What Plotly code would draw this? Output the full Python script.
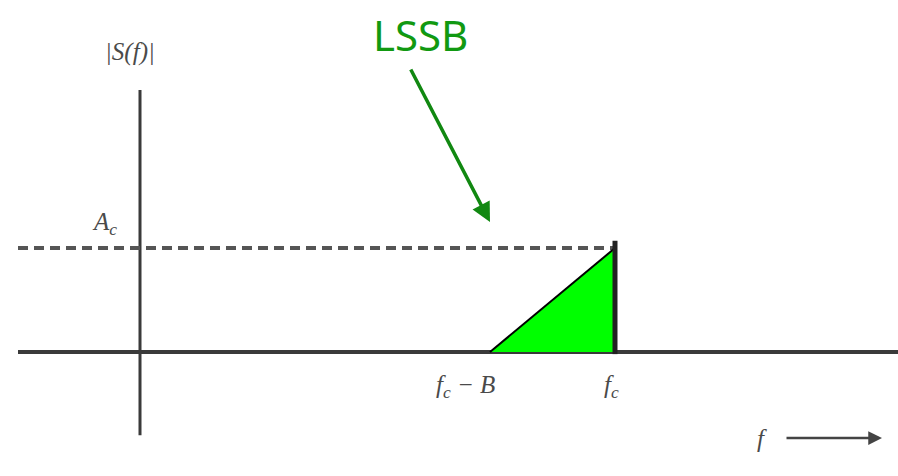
import plotly.graph_objects as go

# Spectrum parameters (arbitrary frequency units)
fc = 4.75          # carrier frequency
B = 1.25           # message bandwidth
Ac = 1.0           # carrier amplitude

# Lower sideband: triangular spectrum from fc-B up to fc
lsb_f = [fc - B, fc, fc, fc - B]
lsb_mag = [0.0, Ac, 0.0, 0.0]

tick_labels = ["f<sub>c</sub> \u2212 B", "f<sub>c</sub>"]
tick_pos = [fc - B, fc]

ink = "#3a3a3a"
fig = go.Figure()

# horizontal frequency axis
fig.add_trace(go.Scatter(x=[-1.22, 7.58], y=[0, 0], mode="lines",
                         line=dict(color=ink, width=4), hoverinfo="skip"))
# vertical magnitude axis
fig.add_trace(go.Scatter(x=[0, 0], y=[2.52, -0.80], mode="lines",
                         line=dict(color=ink, width=3), hoverinfo="skip"))
# dashed carrier-level line
fig.add_trace(go.Scatter(x=[-1.22, fc], y=[Ac, Ac], mode="lines",
                         line=dict(color="#555555", width=4, dash="10px,6px"),
                         hoverinfo="skip"))
# green filled sideband
fig.add_trace(go.Scatter(x=lsb_f, y=lsb_mag, mode="lines", fill="toself",
                         fillcolor="#00ff00", line=dict(color="rgba(0,0,0,0)", width=0),
                         hoverinfo="skip"))
# black hypotenuse of the sideband
fig.add_trace(go.Scatter(x=lsb_f[:2], y=lsb_mag[:2], mode="lines",
                         line=dict(color="black", width=2), hoverinfo="skip"))
# vertical edge at fc
fig.add_trace(go.Scatter(x=[fc, fc], y=[-0.02, Ac + 0.07], mode="lines",
                         line=dict(color="#222222", width=5), hoverinfo="skip"))

serif = dict(family="Liberation Serif", size=25, color="#4a4a4a")
annotations = [
    dict(x=-0.10, y=2.885, text="<i>|S(f)|</i>", showarrow=False, font=serif),
    dict(x=-0.36, y=1.24, text="<i>A<sub>c</sub></i>", showarrow=False, font=serif),
    dict(x=6.22, y=-0.827, text="<i>f</i>", showarrow=False, font=serif),
    # frequency direction arrow
    dict(x=7.42, y=-0.827, ax=6.45, ay=-0.827, xref="x", yref="y",
         axref="x", ayref="y", text="", showarrow=True, arrowhead=2,
         arrowsize=1.1, arrowwidth=2.5, arrowcolor="#444444"),
    # LSSB label and pointer
    dict(x=2.80, y=3.05, text="LSSB", showarrow=False,
         font=dict(family="Noto Sans", size=42, color="#119911")),
    dict(x=3.50, y=1.25, ax=2.70, ay=2.731, xref="x", yref="y",
         axref="x", ayref="y", text="", showarrow=True, arrowhead=2,
         arrowsize=1.1, arrowwidth=3.5, arrowcolor="#118811"),
]
for p, lab in zip(tick_pos, tick_labels):
    annotations.append(dict(x=p - (0.04 if p == fc else 0.25), y=-0.33,
                            text="<i>" + lab + "</i>", showarrow=False, font=serif))

fig.update_layout(
    width=898, height=476,
    margin=dict(l=0, r=0, t=0, b=0),
    paper_bgcolor="white", plot_bgcolor="white",
    showlegend=False,
    xaxis=dict(range=[-1.40, 7.58], visible=False, fixedrange=True),
    yaxis=dict(range=[-1.192, 3.385], visible=False, fixedrange=True),
    annotations=annotations,
)

fig.write_html("out.html")
